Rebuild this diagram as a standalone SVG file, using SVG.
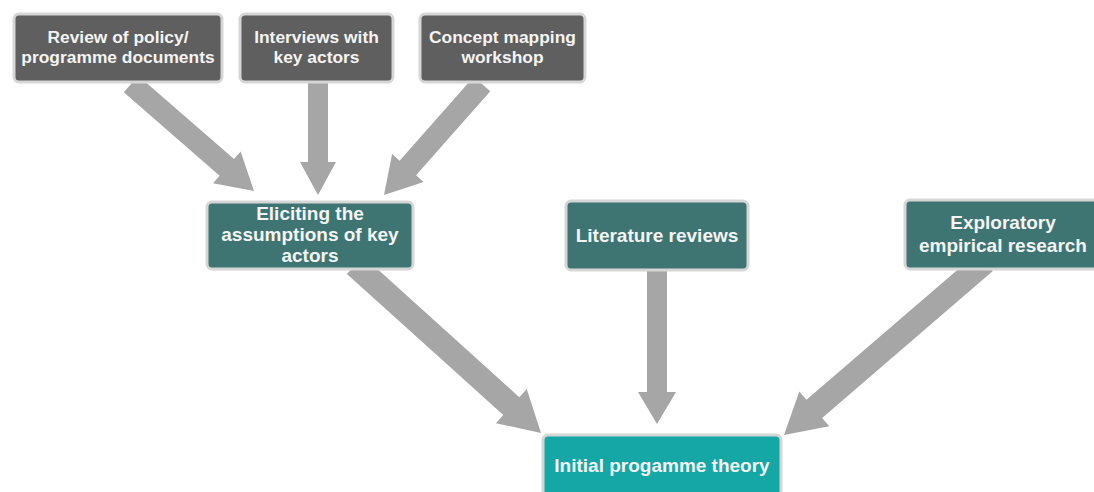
<svg xmlns="http://www.w3.org/2000/svg" width="1094" height="492" viewBox="0 0 1094 492">
<style>
.box{stroke:#d6d6d6;stroke-width:3}
.gray{fill:#5f5f5f}
.teal{fill:#3e7573}
.cyan{fill:#14a7a6}
.arr{fill:#a6a6a6}
text{font-family:"Liberation Sans",Arial,sans-serif;font-weight:bold;fill:#f4f4f4;text-anchor:middle}
.s{font-size:17.4px}
.m{font-size:19px}
</style>
<rect width="1094" height="492" fill="#ffffff"/>
<g id="connectors">
<polygon class="arr" points="138.22,75.70 234.05,159.07 240.61,151.52 254,191 213.05,183.22 219.61,175.67 123.78,92.30"/>
<polygon class="arr" points="308,80 308,162 300,162 318,195 336,162 328,162 328,80"/>
<polygon class="arr" points="473.75,76.72 399.58,160.73 392.09,154.11 384,195 423.57,181.91 416.08,175.29 490.25,91.28"/>
<polygon class="arr" points="363.04,256.09 519.35,397.27 526.73,389.11 541,433 495.89,423.25 503.27,415.09 346.96,273.91"/>
<polygon class="arr" points="647,265 647,392 638,392 657,424 676,392 667,392 667,265"/>
<polygon class="arr" points="977.17,252.91 806.49,399.82 799.32,391.48 784,435 829.32,426.34 822.15,418.0 992.83,271.09"/>
</g>
<g id="review">
<rect class="box gray" x="14" y="14" width="208" height="68" rx="5"/>
<text class="s" x="118" y="43">Review of policy/</text>
<text class="s" x="118" y="63">programme documents</text>
</g>
<g id="interviews">
<rect class="box gray" x="240" y="14" width="153" height="68" rx="5"/>
<text class="s" x="316.5" y="43">Interviews with</text>
<text class="s" x="316.5" y="63">key actors</text>
</g>
<g id="concept">
<rect class="box gray" x="420" y="14" width="165" height="68" rx="5"/>
<text class="s" x="502.5" y="43">Concept mapping</text>
<text class="s" x="502.5" y="63">workshop</text>
</g>
<g id="eliciting">
<rect class="box teal" x="207" y="202" width="206" height="67" rx="5"/>
<text class="m" x="310" y="220">Eliciting the</text>
<text class="m" x="310" y="241">assumptions of key</text>
<text class="m" x="310" y="262">actors</text>
</g>
<g id="literature">
<rect class="box teal" x="566" y="201" width="182" height="69" rx="5"/>
<text class="m" x="657" y="242">Literature reviews</text>
</g>
<g id="exploratory">
<rect class="box teal" x="905" y="200" width="196" height="69" rx="5"/>
<text class="m" x="1003" y="229">Exploratory</text>
<text class="m" x="1003" y="252">empirical research</text>
</g>
<g id="initial">
<rect class="box cyan" x="543" y="435" width="238" height="70" rx="5"/>
<text class="m" x="662" y="472">Initial progamme theory</text>
</g>
</svg>
